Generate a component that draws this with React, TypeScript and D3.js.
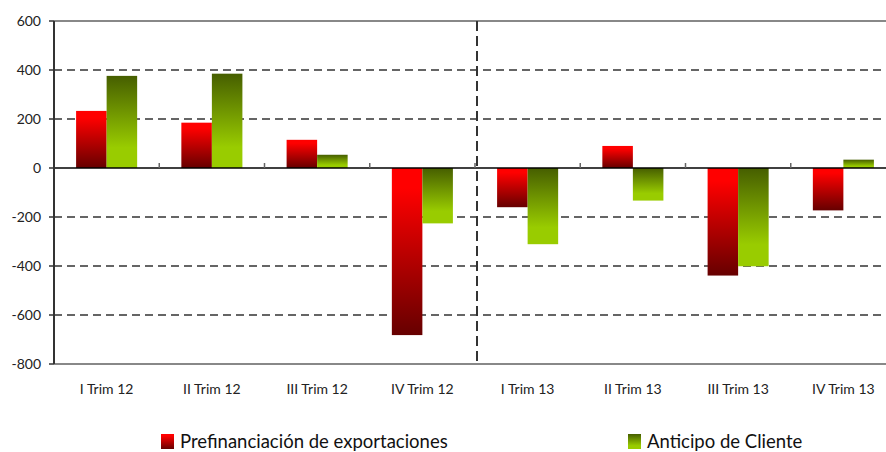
import React from "react";
import * as d3 from "d3";

const categories = [
  "I Trim 12",
  "II Trim 12",
  "III Trim 12",
  "IV Trim 12",
  "I Trim 13",
  "II Trim 13",
  "III Trim 13",
  "IV Trim 13",
];
const prefinanciacion = [233, 185, 115, -682, -160, 90, -439, -173];
const anticipo = [376, 385, 54, -226, -311, -133, -401, 34];
const yTicks = [600, 400, 200, 0, -200, -400, -600, -800];
const seriesNames = ["Prefinanciación de exportaciones", "Anticipo de Cliente"];

const width = 886;
const height = 452;
const margin = { top: 21, right: -10, bottom: 88, left: 54 };
const font = "Lato, 'DejaVu Sans', sans-serif";

const App: React.FC = () => {
  const x0 = margin.left;
  const x1 = width - margin.right;
  const yTop = margin.top;
  const yBottom = height - margin.bottom;

  const xScale = d3.scaleBand<string>().domain(categories).range([x0, x1]);
  const y = d3.scaleLinear().domain([-800, 600]).range([yBottom, yTop]);
  const bw = xScale.bandwidth();
  const barW = bw * 0.29;

  const bars = categories.flatMap((c, i) => {
    const cx = (xScale(c) || 0) + bw / 2;
    return [
      { key: `r${i}`, x: cx - barW, v: prefinanciacion[i], fill: "url(#gradRed)" },
      { key: `g${i}`, x: cx, v: anticipo[i], fill: "url(#gradGreen)" },
    ];
  });

  // separator between 2012 and 2013 (drawn slightly right of the boundary)
  const splitX = (xScale(categories[4]) || 0) + 2;

  return (
    <svg
      width={width}
      height={height}
      style={{ position: "absolute", left: 0, top: 0, background: "#fff" }}
    >
      <defs>
        <linearGradient id="gradRed" x1="0" y1="0" x2="0" y2="1">
          <stop offset="0" stopColor="#ff0000" />
          <stop offset="0.12" stopColor="#ff0000" />
          <stop offset="1" stopColor="#660000" />
        </linearGradient>
        <linearGradient id="gradGreen" x1="0" y1="0" x2="0" y2="1">
          <stop offset="0" stopColor="#465e00" />
          <stop offset="0.78" stopColor="#99cc00" />
          <stop offset="1" stopColor="#99cc00" />
        </linearGradient>
      </defs>

      {/* grid lines */}
      {yTicks
        .filter((t) => t !== 0 && t !== 600 && t !== -800)
        .map((t) => (
          <line
            key={`grid${t}`}
            x1={x0}
            x2={x1}
            y1={y(t)}
            y2={y(t)}
            stroke="#333"
            strokeWidth={1.5}
            strokeDasharray="8,5"
          />
        ))}
      <line x1={x0} x2={x1} y1={y(600)} y2={y(600)} stroke="#888" strokeWidth={2} />
      <line x1={x0} x2={x1} y1={y(-800)} y2={y(-800)} stroke="#888" strokeWidth={2} />

      {/* vertical separator */}
      <line
        x1={splitX}
        x2={splitX}
        y1={yTop}
        y2={yBottom}
        stroke="#333"
        strokeWidth={2}
        strokeDasharray="10,5"
      />

      {/* bars */}
      {bars.map((b) => (
        <rect
          key={b.key}
          x={b.x}
          width={barW}
          y={y(Math.max(0, b.v))}
          height={Math.abs(y(b.v) - y(0))}
          fill={b.fill}
        />
      ))}

      {/* zero line and category ticks */}
      <line x1={x0} x2={x1} y1={y(0)} y2={y(0)} stroke="#000" strokeWidth={1.5} />
      {categories.slice(1).map((c) => (
        <line
          key={`ct${c}`}
          x1={xScale(c) || 0}
          x2={xScale(c) || 0}
          y1={y(0) - 5}
          y2={y(0)}
          stroke="#666"
          strokeWidth={1.5}
        />
      ))}

      {/* y axis */}
      <line x1={x0} x2={x0} y1={yTop} y2={yBottom} stroke="#333" strokeWidth={2} />
      {yTicks.map((t) => (
        <g key={`yt${t}`}>
          <line x1={x0 - 5} x2={x0} y1={y(t)} y2={y(t)} stroke="#333" strokeWidth={1.5} />
          <text
            x={x0 - 13}
            y={y(t)}
            dy="0.36em"
            textAnchor="end"
            fontFamily={font}
            fontSize={14}
            fill="#222"
          >
            {t}
          </text>
        </g>
      ))}

      {/* category labels */}
      {categories.map((c) => (
        <text
          key={`cl${c}`}
          x={(xScale(c) || 0) + bw / 2}
          y={394}
          textAnchor="middle"
          fontFamily={font}
          fontSize={14}
          fill="#222"
        >
          {c}
        </text>
      ))}

      {/* legend */}
      {seriesNames.map((name, i) => {
        const lx = i === 0 ? 161 : 628;
        return (
          <g key={name} transform={`translate(${lx},434)`}>
            <rect width={13} height={15} fill={i === 0 ? "url(#gradRed)" : "url(#gradGreen)"} />
            <text x={19} y={14} fontFamily={font} fontSize={18.5} fill="#111">
              {name}
            </text>
          </g>
        );
      })}
    </svg>
  );
};

export default App;
